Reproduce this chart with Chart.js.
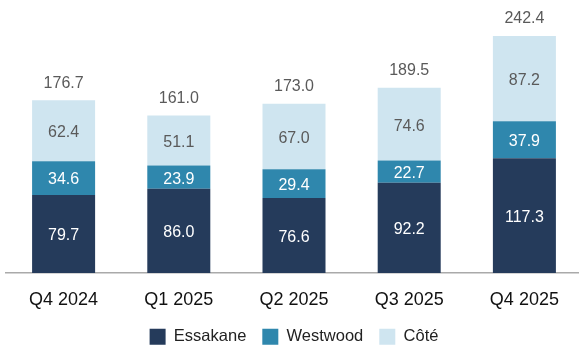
<!DOCTYPE html>
<html>
<head>
<meta charset="utf-8">
<script src="https://cdn.jsdelivr.net/npm/chart.js@4.4.1/dist/chart.umd.min.js"></script>
<style>
  html, body { margin: 0; padding: 0; background: #fff; overflow: hidden; }
  #wrap { width: 584px; height: 347px; position: relative; }
</style>
</head>
<body>
<div id="wrap"><canvas id="myCanvas"></canvas></div>
<script>
var quarters = ["Q4 2024", "Q1 2025", "Q2 2025", "Q3 2025", "Q4 2025"];
var essakane = [79.7, 86.0, 76.6, 92.2, 117.3];
var westwood = [34.6, 23.9, 29.4, 22.7, 37.9];
var cote = [62.4, 51.1, 67.0, 74.6, 87.2];
var totals = [176.7, 161.0, 173.0, 189.5, 242.4];

// draws the numbers inside the bars and the totals on top
var barLabels = {
	id: 'barLabels',
	afterDatasetsDraw: function(chart){
		var ctx = chart.ctx;
		ctx.save();
		ctx.font = '16px "Liberation Sans", Arial, sans-serif';
		ctx.textAlign = 'center';
		ctx.textBaseline = 'middle';
		chart.data.datasets.forEach(function(ds, i){
			var meta = chart.getDatasetMeta(i);
			meta.data.forEach(function(bar, j){
				ctx.fillStyle = i == 2 ? '#5a5a5a' : '#ffffff';
				ctx.fillText(ds.data[j].toFixed(1), bar.x, (bar.y + bar.base) / 2 + 2);
			});
		});
		var last = chart.getDatasetMeta(2);
		last.data.forEach(function(bar, j){
			ctx.fillStyle = '#5a5a5a';
			ctx.fillText(totals[j].toFixed(1), bar.x, bar.y - 17);
		});
		ctx.restore();
	}
};

var chartdata = {
	labels: quarters,
	datasets: [
		{ label: 'Essakane', data: essakane, backgroundColor: '#253b5b' },
		{ label: 'Westwood', data: westwood, backgroundColor: '#2f87ad' },
		{ label: 'Côté', data: cote, backgroundColor: '#cfe5f0' }
	]
};

var ctx = document.getElementById('myCanvas');
new Chart(ctx, {
	type: 'bar',
	data: chartdata,
	plugins: [barLabels],
	options: {
		responsive: true,
		maintainAspectRatio: false,
		animation: false,
		datasets: { bar: { categoryPercentage: 1, barPercentage: 0.547 } },
		layout: { padding: { top: 9, left: 6, right: 2, bottom: -8 } },
		plugins: {
			tooltip: { enabled: false },
			legend: {
				position: 'bottom',
				labels: {
					boxWidth: 16,
					boxHeight: 16,
					padding: 16,
					color: '#222',
					font: { size: 16.5, family: '"Liberation Sans", Arial, sans-serif' }
				}
			}
		},
		scales: {
			x: {
				stacked: true,
				grid: { display: false },
				border: { color: '#aaaaaa', width: 1.5 },
				ticks: {
					padding: 8,
					color: '#111',
					font: { size: 18, family: '"Liberation Sans", Arial, sans-serif' }
				},
				afterFit: function(scale){ scale.height -= 6; }
			},
			y: {
				stacked: true,
				display: false,
				min: 0,
				max: 270
			}
		}
	}
});
</script>
</body>
</html>
